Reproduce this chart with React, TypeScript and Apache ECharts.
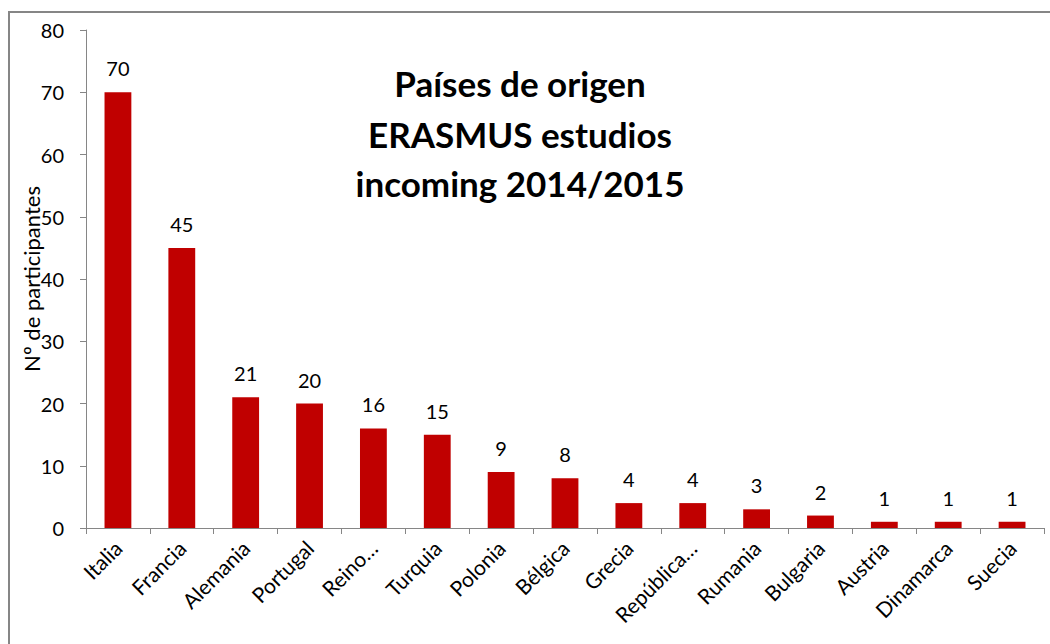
import React, { useEffect, useRef } from "react";
import * as echarts from "echarts";

const categories = ["Italia", "Francia", "Alemania", "Portugal", "Reino…", "Turquia", "Polonia", "Bélgica", "Grecia", "República…", "Rumania", "Bulgaria", "Austria", "Dinamarca", "Suecia"];
const participants = [70, 45, 21, 20, 16, 15, 9, 8, 4, 4, 3, 2, 1, 1, 1];
const yTicks = { min: 0, max: 80, interval: 10 };
const titleLines = ["Países de origen", "ERASMUS estudios", "incoming 2014/2015"];
const yAxisName = "Nº de participantes";

const FONT = "Lato, 'Open Sans', sans-serif";
const titleCenters = [83, 134, 183];

export default function App() {
  const ref = useRef<HTMLDivElement>(null);
  useEffect(() => {
    if (!ref.current) return;
    const chart = echarts.init(ref.current, null, { renderer: "svg" });
    chart.setOption({
      animation: false,
      backgroundColor: "#ffffff",
      textStyle: { fontFamily: FONT },
      grid: { left: 86, right: 6, top: 30, bottom: 116, containLabel: false },
      graphic: [
        {
          type: "rect",
          shape: { x: 9, y: 12, width: 1100, height: 700 },
          style: { fill: "none", stroke: "#868686", lineWidth: 2 },
          silent: true,
        },
        ...titleLines.map((t, i) => ({
          type: "text",
          x: 520,
          y: titleCenters[i],
          style: {
            text: t,
            font: `bold 35px ${FONT}`,
            fill: "#000000",
            align: "center",
            verticalAlign: "middle",
          },
          z: 10,
        })),
      ],
      xAxis: {
        type: "category",
        data: categories,
        axisLine: { lineStyle: { color: "#868686", width: 1 } },
        axisTick: { show: true, alignWithLabel: false, length: 6, lineStyle: { color: "#868686" } },
        axisLabel: {
          rotate: 45,
          interval: 0,
          fontSize: 21,
          color: "#000000",
          fontFamily: FONT,
          margin: 16,
        },
      },
      yAxis: {
        type: "value",
        min: yTicks.min,
        max: yTicks.max,
        interval: yTicks.interval,
        name: yAxisName,
        nameLocation: "middle",
        nameGap: 44,
        nameMoveOverlap: false,
        nameRotate: 90,
        nameTextStyle: { fontSize: 22, color: "#000000", fontFamily: FONT },
        axisLine: { show: true, lineStyle: { color: "#868686", width: 1 } },
        axisTick: { show: true, length: 6, lineStyle: { color: "#868686" } },
        splitLine: { show: false },
        axisLabel: { fontSize: 20, color: "#000000", margin: 22, fontFamily: FONT },
      },
      series: [
        {
          type: "bar",
          data: participants,
          barWidth: "42%",
          itemStyle: { color: "#C00000" },
          label: {
            show: true,
            position: "top",
            distance: 14,
            fontSize: 20,
            color: "#000000",
            fontFamily: FONT,
          },
        },
      ],
    });
    return () => chart.dispose();
  }, []);
  return <div ref={ref} style={{ position: "absolute", left: 0, top: 0, width: 1050, height: 644 }} />;
}
